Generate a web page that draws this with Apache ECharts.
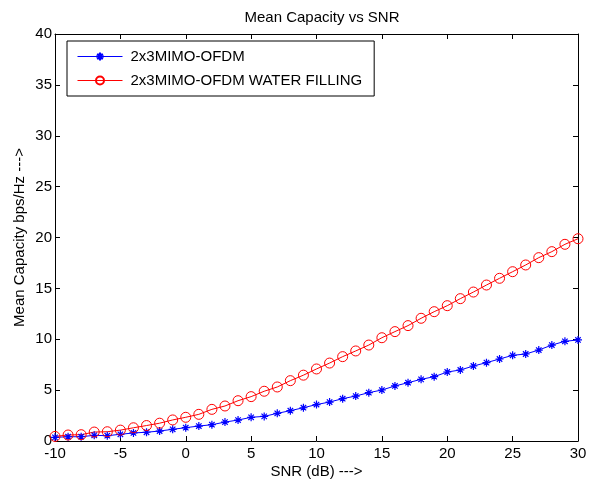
<!DOCTYPE html>
<html><head><meta charset="utf-8">
<script src="https://cdn.jsdelivr.net/npm/echarts@6/dist/echarts.min.js"></script>
<style>html,body{margin:0;padding:0;background:#fff}#c{width:600px;height:486px}</style>
</head><body><div id="c"></div>
<script>
const snr = [-10,-9,-8,-7,-6,-5,-4,-3,-2,-1,0,1,2,3,4,5,6,7,8,9,10,11,12,13,14,15,16,17,18,19,20,21,22,23,24,25,26,27,28,29,30];
const mimo = [0.36,0.42,0.42,0.56,0.52,0.66,0.79,0.86,0.98,1.15,1.31,1.47,1.60,1.86,2.06,2.33,2.42,2.72,2.98,3.27,3.58,3.83,4.16,4.42,4.75,5.01,5.41,5.73,6.06,6.32,6.78,6.98,7.37,7.70,8.06,8.42,8.55,8.94,9.43,9.80,9.93];
const waterFilling = [0.45,0.59,0.62,0.88,0.91,1.07,1.30,1.52,1.75,2.07,2.33,2.62,3.11,3.44,3.96,4.36,4.89,5.31,5.93,6.47,7.08,7.66,8.29,8.85,9.43,10.15,10.75,11.34,12.06,12.71,13.30,13.99,14.64,15.33,15.99,16.64,17.30,18.02,18.61,19.33,19.88];
const seriesNames = ['2x3MIMO-OFDM','2x3MIMO-OFDM WATER FILLING'];
const titleText = 'Mean Capacity vs SNR';
const xName = 'SNR (dB) --->';
const yName = 'Mean Capacity bps/Hz --->';

const font = 'Liberation Sans, Arial, sans-serif';
const fs = 15;
const chart = echarts.init(document.getElementById('c'));
const star = 'path://M0,5L10,5M5,0L5,10M1.6,1.6L8.4,8.4M8.4,1.6L1.6,8.4';
const axisCommon = {
  axisLine:{show:true,onZero:false,lineStyle:{color:'#000',width:1}},
  axisTick:{show:true,inside:true,length:5,lineStyle:{color:'#000'}},
  splitLine:{show:false}
};
chart.setOption({
  animation:false,
  backgroundColor:'#fff',
  title:{text:titleText,left:317,textAlign:'center',top:5,textStyle:{fontFamily:font,fontSize:fs,fontWeight:'normal',color:'#000'}},
  legend:{
    orient:'vertical',left:67,top:41,
    backgroundColor:'#fff',borderColor:'#000',borderWidth:1,
    padding:[8,12,8,10],itemGap:9,itemWidth:45,itemHeight:10,
    textStyle:{fontFamily:font,fontSize:fs,color:'#000',padding:[0,0,0,3]},
    lineStyle:{width:1,color:'inherit'},
    data:seriesNames
  },
  grid:{left:55,right:22,top:34,bottom:45},
  xAxis:[
    Object.assign({type:'value',min:-10,max:30,interval:5,position:'bottom',
      name:xName,nameLocation:'middle',nameGap:23,nameMoveOverlap:false,
      nameTextStyle:{fontFamily:font,fontSize:fs,color:'#000'},
      axisLabel:{fontFamily:font,fontSize:fs,color:'#000',margin:5}},axisCommon),
    Object.assign({type:'value',min:-10,max:30,interval:5,position:'top',axisLabel:{show:false}},axisCommon)
  ],
  yAxis:[
    Object.assign({type:'value',min:0,max:40,interval:5,position:'left',
      name:yName,nameLocation:'middle',nameGap:28,nameMoveOverlap:false,
      nameTextStyle:{fontFamily:font,fontSize:fs,color:'#000'},
      axisLabel:{fontFamily:font,fontSize:fs,color:'#000',margin:3}},axisCommon),
    Object.assign({type:'value',min:0,max:40,interval:5,position:'right',axisLabel:{show:false}},axisCommon)
  ],
  series:[
    {name:seriesNames[0],type:'line',data:snr.map((x,i)=>[x,mimo[i]]),
      symbol:star,symbolSize:8,showAllSymbol:true,
      lineStyle:{color:'#0000ff',width:1},
      itemStyle:{color:'none',borderColor:'#0000ff',borderWidth:1.2}},
    {name:seriesNames[1],type:'line',data:snr.map((x,i)=>[x,waterFilling[i]]),
      symbol:'circle',symbolSize:10,showAllSymbol:true,
      lineStyle:{color:'#ff0000',width:1},
      itemStyle:{color:'none',borderColor:'#ff0000',borderWidth:1}}
  ]
});
</script></body></html>
